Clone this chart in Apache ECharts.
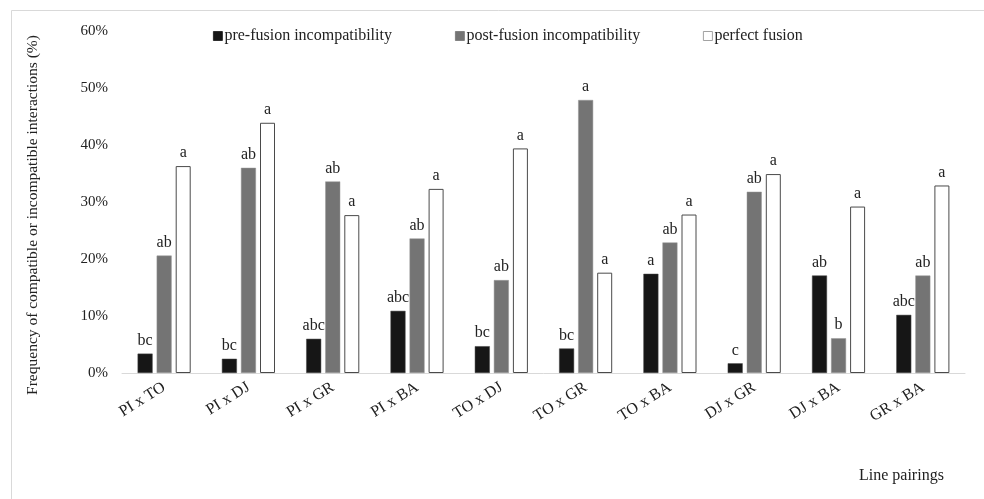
<!DOCTYPE html>
<html>
<head>
<meta charset="utf-8">
<script src="https://cdn.jsdelivr.net/npm/echarts@6/dist/echarts.min.js"></script>
<style>html,body{margin:0;padding:0;background:#fff}#c{width:984px;height:499px}</style>
</head>
<body>
<div id="c"></div>
<script>
const categories = ['PI x TO','PI x DJ','PI x GR','PI x BA','TO x DJ','TO x GR','TO x BA','DJ x GR','DJ x BA','GR x BA'];
const preFusion  = [3.4, 2.5, 6.0, 10.9, 4.7, 4.3, 17.4, 1.7, 17.1, 10.2];
const postFusion = [20.6, 36.0, 33.6, 23.6, 16.3, 47.9, 22.9, 31.8, 6.1, 17.1];
const perfect    = [36.3, 43.9, 27.7, 32.3, 39.4, 17.6, 27.8, 34.9, 29.2, 32.9];
const preLetters  = ['bc','bc','abc','abc','bc','bc','a','c','ab','abc'];
const postLetters = ['ab','ab','ab','ab','ab','a','ab','ab','b','ab'];
const perfLetters = ['a','a','a','a','a','a','a','a','a','a'];
const seriesNames = ['pre-fusion incompatibility','post-fusion incompatibility','perfect fusion'];
const yTicks = [0,10,20,30,40,50,60];

const FONT = 'Liberation Serif';
function withLabels(vals, letters){
  return vals.map((v,i)=>({value:v, label:{formatter:letters[i]}}));
}
const labelStyle = {show:true, position:'top', distance:5, fontFamily:FONT, fontSize:16, color:'#222'};
const legendLefts = [208, 450, 698];
const legendBorders = ['#161616', '#747474', '#8a8a8a'];

const chart = echarts.init(document.getElementById('c'));
chart.setOption({
  animation:false,
  backgroundColor:'#fff',
  textStyle:{fontFamily:FONT},
  legend: seriesNames.map((n,i)=>({
    left:legendLefts[i], top:23, itemWidth:9, itemHeight:9, icon:'rect',
    itemStyle:{borderColor:legendBorders[i], borderWidth:0.8},
    textStyle:{fontFamily:FONT, fontSize:16, color:'#222', padding:[0,0,0,-3]},
    data:[n]
  })),
  grid:{left:122, right:19, top:31, bottom:126},
  xAxis:{
    type:'category', data:categories,
    axisLine:{lineStyle:{color:'#d9d9d9'}},
    axisTick:{show:false},
    axisLabel:{rotate:32, fontFamily:FONT, fontSize:16, color:'#222', margin:13}
  },
  yAxis:{
    type:'value', min:0, max:60, interval:10,
    axisLine:{show:false}, axisTick:{show:false}, splitLine:{show:false},
    axisLabel:{fontFamily:FONT, fontSize:15, color:'#222', margin:14,
      formatter:v=> yTicks.includes(v) ? v+'%' : ''}
  },
  series:[
    {name:seriesNames[0], type:'bar', barWidth:15, barGap:'27%',
     itemStyle:{color:'#161616', borderColor:'#444', borderWidth:0.5},
     label:labelStyle, data:withLabels(preFusion, preLetters)},
    {name:seriesNames[1], type:'bar', barWidth:15, barGap:'27%',
     itemStyle:{color:'#747474', borderColor:'#999', borderWidth:0.5},
     label:labelStyle, data:withLabels(postFusion, postLetters)},
    {name:seriesNames[2], type:'bar', barWidth:15, barGap:'27%',
     itemStyle:{color:'#ffffff', borderColor:'#4a4a4a', borderWidth:1},
     label:labelStyle, data:withLabels(perfect, perfLetters)}
  ],
  graphic:[
    {type:'rect', left:9, top:8, shape:{width:990, height:500},
     style:{fill:'none', stroke:'#d9d9d9', lineWidth:1}, silent:true},
    {type:'text', x:33, y:215, rotation:Math.PI/2,
     style:{text:'Frequency of compatible or incompatible interactions (%)',
       font:'15.5px "Liberation Serif"', fill:'#222', align:'center', verticalAlign:'middle'}},
    {type:'text', left:859, top:468,
     style:{text:'Line pairings', font:'16px "Liberation Serif"', fill:'#222'}}
  ]
});
</script>
</body>
</html>
